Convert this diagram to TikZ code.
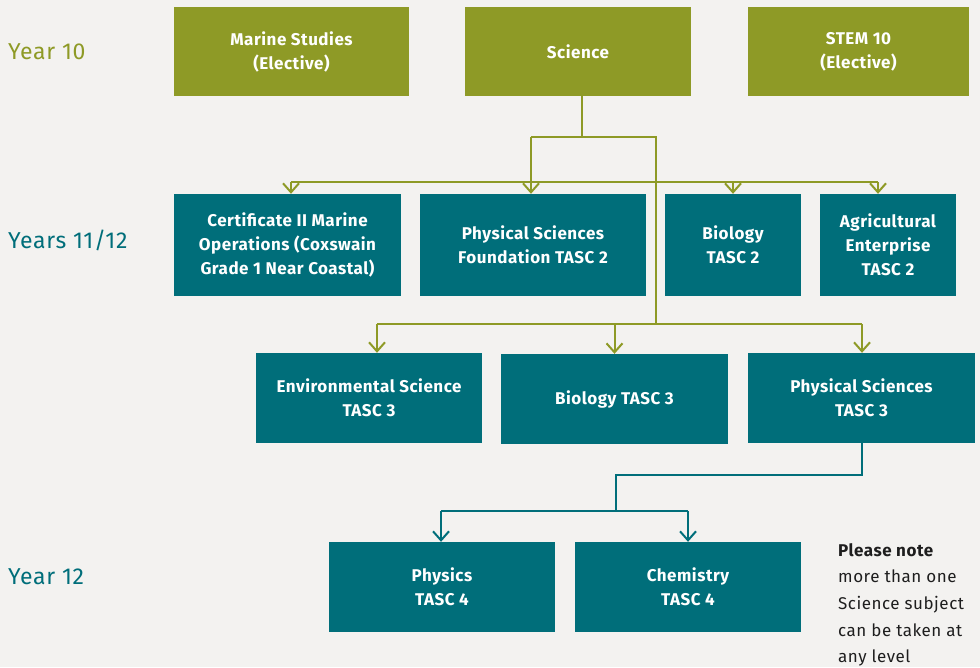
\documentclass[tikz,border=0pt]{standalone}
\usepackage{fontspec}
\setmainfont{Fira Sans}[LetterSpace=3]
\usetikzlibrary{arrows.meta}
\definecolor{yrolive}{HTML}{8E9A26}
\definecolor{yrteal}{HTML}{006E7A}
\definecolor{bg}{HTML}{F3F2F0}
\definecolor{notetext}{HTML}{1E1E1E}

\begin{document}
\begin{tikzpicture}[x=1pt, y=-1pt, >={Straight Barb[length=9pt,width=16pt,line width=2pt]}]
\tikzstyle{box} = [rectangle, inner sep=0pt, align=center, text=white, font=\bfseries\fontsize{17}{24}\selectfont]
\tikzstyle{gbox} = [box, fill=yrolive]
\tikzstyle{tbox} = [box, fill=yrteal]
\tikzstyle{year} = [anchor=west, inner sep=0pt, font=\fontsize{23}{26}\selectfont]
\tikzstyle{oline} = [draw=yrolive, line width=2pt]
\tikzstyle{tline} = [draw=yrteal, line width=2pt]
\fill[bg] (0,0) rectangle (980,667);
\useasboundingbox (0,0) rectangle (980,667);
\node[year, text=yrolive] (y10) at (8,52) {Year 10};
\node[year, text=yrteal] (y11) at (8,240) {Years 11/12};
\node[year, text=yrteal] (y12) at (8,577) {Year 12};
\node[gbox, minimum width=235pt, minimum height=89pt] (ms) at (291.5,51.5) {Marine Studies\\(Elective)};
\node[gbox, minimum width=226pt, minimum height=89pt] (sci) at (578,51.5) {Science};
\node[gbox, minimum width=221pt, minimum height=89pt] (stem) at (858.5,51.5) {STEM 10\\(Elective)};
\node[tbox, minimum width=227pt, minimum height=102pt] (cert) at (287.5,245) {Certificate II Marine\\Operations (Coxswain\\Grade 1 Near Coastal)};
\node[tbox, minimum width=226pt, minimum height=102pt] (psf) at (533,245) {Physical Sciences\\Foundation TASC 2};
\node[tbox, minimum width=136pt, minimum height=102pt] (bio2) at (733,245) {Biology\\TASC 2};
\node[tbox, minimum width=136pt, minimum height=102pt] (agri) at (888,245) {Agricultural\\Enterprise\\TASC 2};
\node[tbox, minimum width=226pt, minimum height=90pt] (env) at (369,398) {Environmental Science\\TASC 3};
\node[tbox, minimum width=227pt, minimum height=90pt] (bio3) at (614.5,399) {Biology TASC 3};
\node[tbox, minimum width=227pt, minimum height=90pt] (ps3) at (861.5,398) {Physical Sciences\\TASC 3};
\node[tbox, minimum width=226pt, minimum height=90pt] (phy) at (442,587) {Physics\\TASC 4};
\node[tbox, minimum width=226pt, minimum height=90pt] (chem) at (688,587) {Chemistry\\TASC 4};
\node[anchor=north west, inner sep=0pt, align=left, text=notetext, font=\fontsize{17}{26.7}\selectfont] (note) at (838,543) {\textbf{Please note}\\more than one\\Science subject\\can be taken at\\any level};
\coordinate (a1) at (531,137);
\coordinate (a2) at (656,137);
\coordinate (b1) at (291,182);
\coordinate (b2) at (878,182);
\coordinate (c1) at (377,324);
\coordinate (c2) at (656,324);
\coordinate (c3) at (862,324);
\coordinate (d1) at (862,475);
\coordinate (d2) at (616,475);
\coordinate (e1) at (441,511);
\coordinate (e2) at (688,511);
\draw[oline] ([xshift=4pt]sci.south) -- ([xshift=4pt]sci.south |- a1);
\draw[oline] (a1) -- (a2) -- (c2);
\draw[oline] (b1) -- (b2);
\draw[oline, ->] (a1) -- (a1 |- psf.north);
\draw[oline, ->] (b1) -- (b1 |- cert.north);
\draw[oline, ->] (bio2.north |- b1) -- (bio2.north);
\draw[oline, ->] (b2) -- (b2 |- agri.north);
\draw[oline] (c1) -- (c3);
\draw[oline, ->] (c1) -- (c1 |- env.north);
\draw[oline, ->] (bio3.north |- c1) -- (bio3.north);
\draw[oline, ->] (c3) -- (c3 |- ps3.north);
\draw[tline] (ps3.south -| d1) -- (d1) -- (d2) -- (d2 |- e1);
\draw[tline] (e1) -- (e2);
\draw[tline, ->] (e1) -- (e1 |- phy.north);
\draw[tline, ->] (e2) -- (e2 |- chem.north);
\end{tikzpicture}
\end{document}
